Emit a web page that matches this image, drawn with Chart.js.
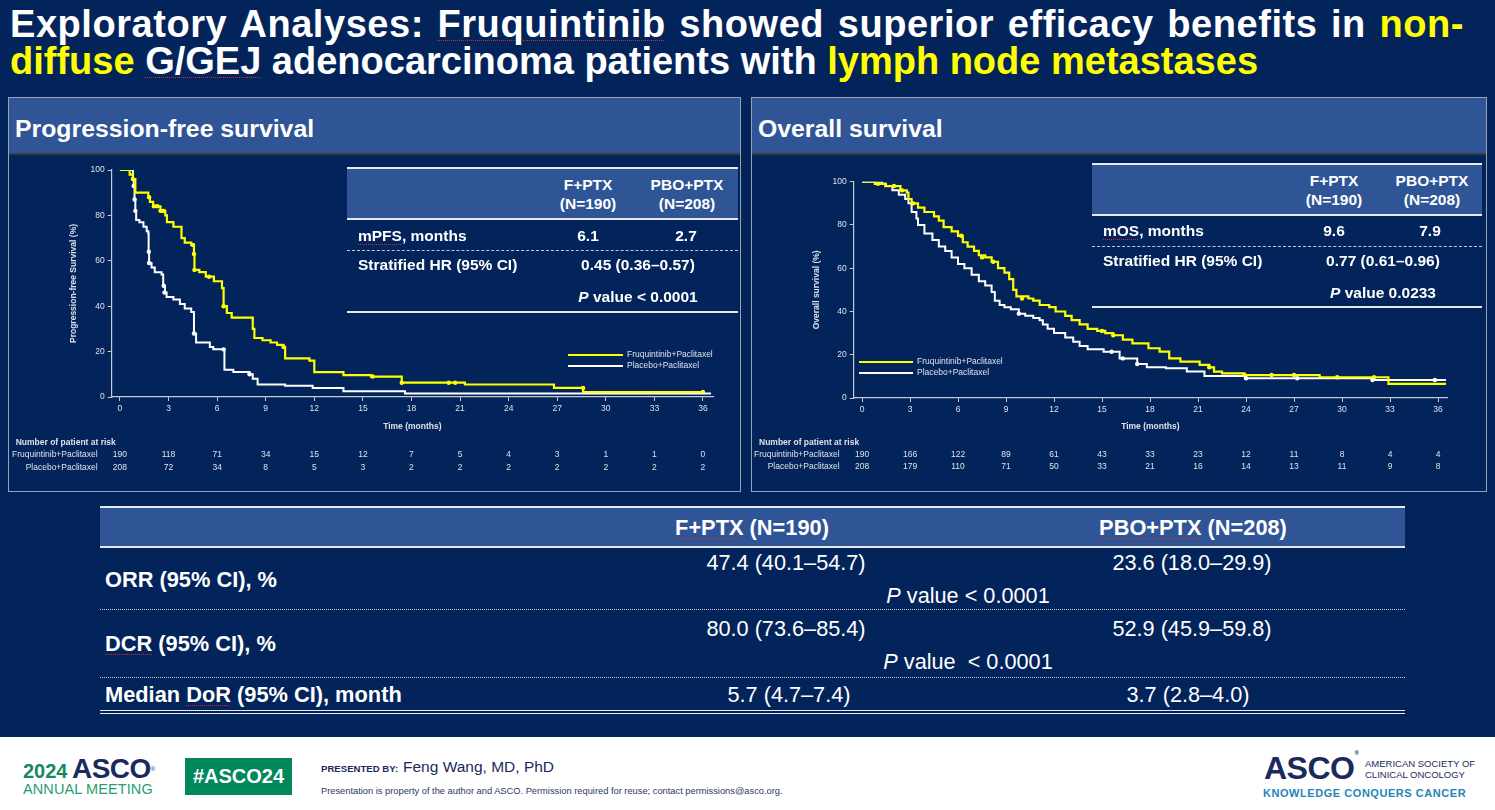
<!DOCTYPE html>
<html><head><meta charset="utf-8">
<script src="https://cdn.jsdelivr.net/npm/chart.js@4.4.1/dist/chart.umd.min.js"></script>
<style>
html,body{margin:0;padding:0;}
body{width:1495px;height:810px;background:#02245A;position:relative;overflow:hidden;font-family:"Liberation Sans",Arial,sans-serif;color:#fff;}
.abs{position:absolute;white-space:nowrap;}
.c{transform:translate(-50%,-50%);}
.l{transform:translate(0,-50%);}
.sp{text-decoration:underline dotted #d42a2a;text-decoration-thickness:1px;text-underline-offset:3px;}
.y{color:#FFFF00;}
.panel{position:absolute;box-sizing:border-box;border:1px solid #9aa3b5;}
.phead{height:57px;background:#2F5597;border-bottom:2px solid #3a3a3a;box-sizing:border-box;font-weight:bold;font-size:24.8px;line-height:62px;padding-left:6px;overflow:hidden;}
.tb{font-weight:bold;font-size:15.5px;}
.bt{font-size:21.7px;}
.bb{font-weight:bold;font-size:21.8px;}
.hline{position:absolute;background:#E6E8EE;height:2px;}
.dash{position:absolute;border-top:1px dashed #c4c9d4;height:0;}
.dot{position:absolute;border-top:1.5px dotted #c4c9d4;height:0;}
canvas{position:absolute;}
</style>
</head><body>

<div class="abs" style="left:10px;top:6px;font-weight:bold;font-size:38px;line-height:37px;"><span style="letter-spacing:0.55px;word-spacing:2.5px">Exploratory Analyses: <span class="sp">Fruquintinib</span> showed superior efficacy benefits in <span class="y">non-</span></span><br><span class="y">diffuse</span> <span class="sp">G/GEJ</span> adenocarcinoma patients with <span class="y">lymph node metastases</span></div>

<div class="panel" style="left:8px;top:97px;width:733px;height:395px"><div class="phead">Progression-free survival</div></div>
<div class="panel" style="left:751px;top:97px;width:736px;height:395px"><div class="phead">Overall survival</div></div>

<canvas id="pfs" width="733" height="336" style="left:8px;top:156px"></canvas>
<canvas id="os" width="733" height="336" style="left:753px;top:156px"></canvas>

<!-- PFS summary table -->
<div class="abs" style="left:347px;top:167px;width:391px;height:53px;background:#2F5597;border-top:2px solid #E6E8EE;border-bottom:2px solid #E6E8EE;box-sizing:border-box"></div>
<div class="abs c tb" style="left:588px;top:185px">F+PTX</div>
<div class="abs c tb" style="left:588px;top:204px">(N=190)</div>
<div class="abs c tb" style="left:687px;top:185px">PBO+PTX</div>
<div class="abs c tb" style="left:687px;top:204px">(N=208)</div>
<div class="abs l tb" style="left:358px;top:236px"><span class="sp">mPFS</span>, months</div>
<div class="abs c tb" style="left:588px;top:236px">6.1</div>
<div class="abs c tb" style="left:686px;top:236px">2.7</div>
<div class="dash" style="left:347px;top:250px;width:391px"></div>
<div class="abs l tb" style="left:358px;top:265px">Stratified HR (95% CI)</div>
<div class="abs c tb" style="left:638px;top:265px">0.45 (0.36–0.57)</div>
<div class="abs c tb" style="left:638px;top:297px"><i>P</i> value &lt; 0.0001</div>
<div class="hline" style="left:347px;top:311px;width:391px"></div>

<!-- OS summary table -->
<div class="abs" style="left:1092px;top:163px;width:390px;height:53px;background:#2F5597;border-top:2px solid #E6E8EE;border-bottom:2px solid #E6E8EE;box-sizing:border-box"></div>
<div class="abs c tb" style="left:1334px;top:181px">F+PTX</div>
<div class="abs c tb" style="left:1334px;top:200px">(N=190)</div>
<div class="abs c tb" style="left:1432px;top:181px">PBO+PTX</div>
<div class="abs c tb" style="left:1432px;top:200px">(N=208)</div>
<div class="abs l tb" style="left:1103px;top:231px"><span class="sp">mOS</span>, months</div>
<div class="abs c tb" style="left:1334px;top:231px">9.6</div>
<div class="abs c tb" style="left:1430px;top:231px">7.9</div>
<div class="dash" style="left:1092px;top:246px;width:390px"></div>
<div class="abs l tb" style="left:1103px;top:261px">Stratified HR (95% CI)</div>
<div class="abs c tb" style="left:1383px;top:261px">0.77 (0.61–0.96)</div>
<div class="abs c tb" style="left:1383px;top:293px"><i>P</i> value 0.0233</div>
<div class="hline" style="left:1092px;top:306px;width:390px"></div>

<!-- bottom table -->
<div class="abs" style="left:100px;top:506px;width:1305px;height:42px;background:#2F5597;border-top:2px solid #E6E8EE;border-bottom:2px solid #E6E8EE;box-sizing:border-box"></div>
<div class="abs c bb" style="left:752px;top:528px"><span class="sp">F+PTX</span> (N=190)</div>
<div class="abs c bb" style="left:1193px;top:528px"><span class="sp">PBO+PTX</span> (N=208)</div>
<div class="abs l bb" style="left:105px;top:580px">ORR (95% CI), %</div>
<div class="abs c bt" style="left:786px;top:563px">47.4 (40.1–54.7)</div>
<div class="abs c bt" style="left:1192px;top:563px">23.6 (18.0–29.9)</div>
<div class="abs c bt" style="left:968px;top:596px"><i>P</i> value &lt; 0.0001</div>
<div class="dot" style="left:100px;top:609px;width:1305px"></div>
<div class="abs l bb" style="left:105px;top:644px"><span class="sp">DCR</span> (95% CI), %</div>
<div class="abs c bt" style="left:786px;top:629px">80.0 (73.6–85.4)</div>
<div class="abs c bt" style="left:1192px;top:629px">52.9 (45.9–59.8)</div>
<div class="abs c bt" style="left:968px;top:662px"><i>P</i> value &nbsp;&lt; 0.0001</div>
<div class="dot" style="left:100px;top:677px;width:1305px"></div>
<div class="abs l bb" style="left:105px;top:695px">Median <span class="sp">DoR</span> (95% CI), month</div>
<div class="abs c bt" style="left:789px;top:695px">5.7 (4.7–7.4)</div>
<div class="abs c bt" style="left:1188px;top:695px">3.7 (2.8–4.0)</div>
<div class="abs" style="left:100px;top:710px;width:1305px;height:0;border-top:4px double #E6E8EE"></div>

<!-- footer -->
<div class="abs" style="left:0;top:737px;width:1495px;height:73px;background:#fff"></div>
<div class="abs" style="left:23px;top:754px;line-height:30px;"><span style="color:#16895f;font-size:20px;font-weight:bold">2024</span> <span style="color:#1b2a5e;font-size:28px;font-weight:bold;letter-spacing:-0.5px">ASCO</span><span style="color:#1b2a5e;font-size:6px;vertical-align:top">®</span></div>
<div class="abs l" style="left:23px;top:789px;color:#2a9d70;font-size:14.5px;letter-spacing:0.1px">ANNUAL MEETING</div>
<div class="abs" style="left:185px;top:758px;width:107px;height:37px;background:#00875A;color:#fff;font-weight:bold;font-size:20px;line-height:37px;text-align:center">#ASCO24</div>
<div class="abs l" style="left:321px;top:768px;color:#1b2a5e;font-weight:bold;font-size:9.6px">PRESENTED BY:</div>
<div class="abs l" style="left:403px;top:767px;color:#1b2a5e;font-size:15.5px">Feng Wang, MD, PhD</div>
<div class="abs l" style="left:321px;top:791px;color:#2b3a60;font-size:9.3px">Presentation is property of the author and ASCO. Permission required for reuse; contact permissions@asco.org.</div>
<div class="abs l" style="left:1264px;top:768px;color:#1b2a5e;font-weight:bold;font-size:32px;letter-spacing:-0.5px">ASCO<span style="font-size:6px;vertical-align:top">®</span></div>
<div class="abs l" style="left:1365px;top:763px;color:#1b2a5e;font-size:9.5px">AMERICAN SOCIETY OF</div>
<div class="abs l" style="left:1365px;top:774px;color:#1b2a5e;font-size:9.5px">CLINICAL ONCOLOGY</div>
<div class="abs l" style="left:1263px;top:793px;color:#1f86b8;font-weight:bold;font-size:11px;letter-spacing:0.55px">KNOWLEDGE CONQUERS CANCER</div>

<script>
// ---------- data ----------
const months = [0,3,6,9,12,15,18,21,24,27,30,33,36];

const pfsFTime = [0,0.6,0.8,0.95,1.75,1.85,2.05,2.5,2.8,2.9,3.3,3.8,4.0,4.4,4.57,4.6,4.9,5.3,5.8,6.3,6.4,6.6,6.9,8.2,8.3,8.8,9.3,9.7,10.1,10.2,11.7,12.0,13.8,15.5,17.4,21.3,26.8,28.6,36.0];
const pfsFSurv = [100,98,96,90,88,86,84,82,80,77,75,70,68,67,63,56,55,53,51,48,40,37,35,30,26,25,24,23,22,17,16,11,9.6,9.0,6.3,5.5,4.0,2.2,2.2];
const pfsPTime = [0,0.8,0.85,0.9,0.95,1.0,1.2,1.45,1.65,1.75,1.77,1.8,1.95,2.15,2.57,2.67,2.78,2.88,3.3,3.7,4.0,4.4,4.57,4.7,5.55,5.76,6.45,7.0,8.0,8.2,8.5,10.2,11.9,13.8,17.6,36.5];
const pfsPSurv = [100,96,93,87,82,78,77,75,73,72,64,59,57,55,54,49,46,44,43,41,39,37.5,28,24,22,21,12,11,10,8,5.5,5,4,2.5,1.5,1.5];
const pfsFCensT = [0.8,1.8,2.1,2.3,2.5,2.6,2.7,4.5,4.57,4.6,5.5,6.4,10.1,15.6,17.4,20.3,20.7,28.6,36.0];
const pfsFCensS = [96,88,84,84,82,82,82,67,63,56,53,40,22,9.0,6.3,6.3,6.3,4.0,2.2];
const pfsPCensT = [0.85,0.9,0.95,1.78,1.8,2.7,2.75,4.57,6.4,8.0];
const pfsPCensS = [93,87,82,64,59,49,46,28,21,10];

const osFTime = [0,0.8,1.45,2.4,2.8,2.9,3.1,3.5,3.9,4.5,4.8,5.1,5.6,6.0,6.3,6.6,7.0,7.3,7.7,8.1,8.5,8.9,9.2,9.45,9.65,10.4,10.7,11.1,11.7,12.1,12.7,13.1,13.6,14.1,14.7,15.2,15.7,16.3,16.9,17.9,18.6,19.2,19.9,21.1,21.7,22.0,22.5,23.9,28.6,32.9,36.5];
const osFSurv = [100,99,98,96,95,92,90,88,86,84,82,79,77,75,72,70,68,66,65,63,60,58,55,50,47,46,45,43,42,40,38,36,34,32,31,30,29,27,25.3,23,21.4,18.3,16.8,15.3,14.2,12.2,11.4,10.6,9.6,6.5,6.5];
const osPTime = [0,1.25,1.5,1.9,2.3,2.7,2.9,3.1,3.4,3.5,3.9,4.4,4.8,5.2,5.6,6.0,6.4,6.85,7.3,7.7,8.1,8.3,8.6,8.9,9.3,9.8,10.2,10.7,11.1,11.3,11.6,12.0,12.7,13.2,13.6,14.1,15.1,16.1,17.2,17.8,19.0,20.3,21.4,24.0,31.9,36.5];
const osPSurv = [100,99,98,96,94,92,90,86,83,80,76,73,70,68,65,62,60,57,54,52,49,45,43,42,41,39,38,37,36,34,32,30,28,26,24,22.5,21.4,18.3,15.7,14.2,13.7,12.2,10.2,9.1,8.3,8.3];
const osFCensT = [1.0,2.0,2.5,3.2,6.2,7.5,8.2,10.0,15.0,15.7,21.7,23.9,25.6,27.0,29.7,32.0];
const osFCensS = [99,98,96,90,75,65,63,46,31,29,14.2,10.6,10.6,10.6,9.6,9.6];
const osPCensT = [9.8,15.6,16.3,17.2,24.0,27.2,31.9,35.8];
const osPCensS = [39,21.4,18.3,15.7,9.1,9.1,8.3,8.3];

const pfsRiskF = [190,118,71,34,15,12,7,5,4,3,1,1,0];
const pfsRiskP = [208,72,34,8,5,3,2,2,2,2,2,2,2];
const osRiskF = [190,166,122,89,61,43,33,23,12,11,8,4,4];
const osRiskP = [208,179,110,71,50,33,21,16,14,13,11,9,8];

const armF = 'Fruquintinib+Paclitaxel';
const armP = 'Placebo+Paclitaxel';
const yTicks = [0,20,40,60,80,100];

// ---------- drawing ----------
const FONT = '"Liberation Sans Narrow","Liberation Sans",Arial,sans-serif';
const AX = '#C4C9D2';
const TX = '#DDE1E8';
function pts(t,s){return t.map((x,i)=>({x:x,y:s[i]}));}

const kmExtras = {
  id:'kmExtras',
  afterDraw(chart, args, o){
    const ctx = chart.ctx, xs = chart.scales.x;
    ctx.save();
    ctx.fillStyle = TX;
    ctx.textBaseline = 'middle';
    ctx.font = 'bold 8.5px ' + FONT;
    ctx.textAlign = 'left';
    ctx.fillText('Number of patient at risk', o.headX, o.headY);
    ctx.font = '8.5px ' + FONT;
    o.rows.forEach((r,ri)=>{
      const y = o.rowY[ri];
      ctx.textAlign = 'right';
      ctx.fillText(r.label, o.labelX, y);
      ctx.textAlign = 'center';
      r.values.forEach((v,i)=>ctx.fillText(String(v), xs.getPixelForValue(months[i]), y));
    });
    chart.data.datasets.slice(0,2).forEach((ds,i)=>{
      const y = o.legY + i*o.legGap;
      ctx.strokeStyle = ds.borderColor; ctx.lineWidth = 2.2;
      ctx.beginPath(); ctx.moveTo(o.legX, y); ctx.lineTo(o.legX + o.legLen, y); ctx.stroke();
      ctx.textAlign = 'left'; ctx.fillStyle = TX;
      ctx.fillText(ds.label, o.legX + o.legLen + 4, y);
    });
    ctx.restore();
  }
};

function makeKM(id, cfg){
  return new Chart(document.getElementById(id), {
    type:'scatter',
    data:{datasets:[
      {label:armF, data:pts(cfg.fT,cfg.fS), showLine:true, stepped:true, borderColor:'#FFFF00', borderWidth:2.2, pointRadius:0, fill:false},
      {label:armP, data:pts(cfg.pT,cfg.pS), showLine:true, stepped:true, borderColor:'#FFFFFF', borderWidth:2, pointRadius:0, fill:false},
      {label:'cF', data:pts(cfg.fcT,cfg.fcS), showLine:false, pointRadius:2.2, pointBackgroundColor:'#FFFF00', pointBorderWidth:0},
      {label:'cP', data:pts(cfg.pcT,cfg.pcS), showLine:false, pointRadius:2.2, pointBackgroundColor:'#FFFFFF', pointBorderWidth:0}
    ]},
    options:{
      responsive:false, animation:false, events:[],
      layout:{padding:cfg.pad},
      plugins:{legend:{display:false}, tooltip:{enabled:false}, kmExtras:cfg.extras},
      scales:{
        x:{type:'linear', min:cfg.xmin, max:cfg.xmax,
           afterBuildTicks:(s)=>{s.ticks = months.map(v=>({value:v}));},
           ticks:{color:TX, font:{size:8.5, family:FONT}, padding:3, maxRotation:0, autoSkip:false},
           grid:{drawOnChartArea:false, color:AX, tickLength:4, lineWidth:1},
           border:{color:AX, width:1.2},
           title:{display:true, text:'Time (months)', color:TX, font:{size:8.5, weight:'bold', family:FONT}, padding:{top:4,bottom:4}},
           afterFit:(s)=>{s.height = cfg.xh;}},
        y:{min:0, max:100,
           afterBuildTicks:(s)=>{s.ticks = yTicks.map(v=>({value:v}));},
           ticks:{color:TX, font:{size:8.5, family:FONT}, padding:3},
           grid:{drawOnChartArea:false, color:AX, tickLength:4, lineWidth:1},
           border:{color:AX, width:1.2},
           title:{display:true, text:cfg.ytitle, color:TX, font:{size:8.5, weight:'bold', family:FONT}, padding:{top:4,bottom:4}},
           afterFit:(s)=>{s.width = cfg.yw;}}
      }
    },
    plugins:[kmExtras]
  });
}

makeKM('pfs', {
  fT:pfsFTime, fS:pfsFSurv, pT:pfsPTime, pS:pfsPSurv,
  fcT:pfsFCensT, fcS:pfsFCensS, pcT:pfsPCensT, pcS:pfsPCensS,
  xmin:-0.51, xmax:36.62, pad:{left:57,right:28,top:14,bottom:56}, yw:46.7, xh:39,
  ytitle:'Progression-free Survival (%)',
  extras:{headX:7.7, headY:286.7, labelX:89.7, rowY:[298.5,311.5],
    rows:[{label:armF, values:pfsRiskF},{label:armP, values:pfsRiskP}],
    legX:560, legY:199, legGap:11, legLen:55}
});

makeKM('os', {
  fT:osFTime, fS:osFSurv, pT:osPTime, pS:osPSurv,
  fcT:osFCensT, fcS:osFCensS, pcT:osPCensT, pcS:osPCensS,
  xmin:-0.52, xmax:36.56, pad:{left:55,right:39,top:25.7,bottom:56}, yw:45.7, xh:38,
  ytitle:'Overall survival (%)',
  extras:{headX:6, headY:286.7, labelX:86.7, rowY:[298.5,311],
    rows:[{label:armF, values:osRiskF},{label:armP, values:osRiskP}],
    legX:106, legY:206, legGap:11, legLen:54}
});
</script>
</body></html>
